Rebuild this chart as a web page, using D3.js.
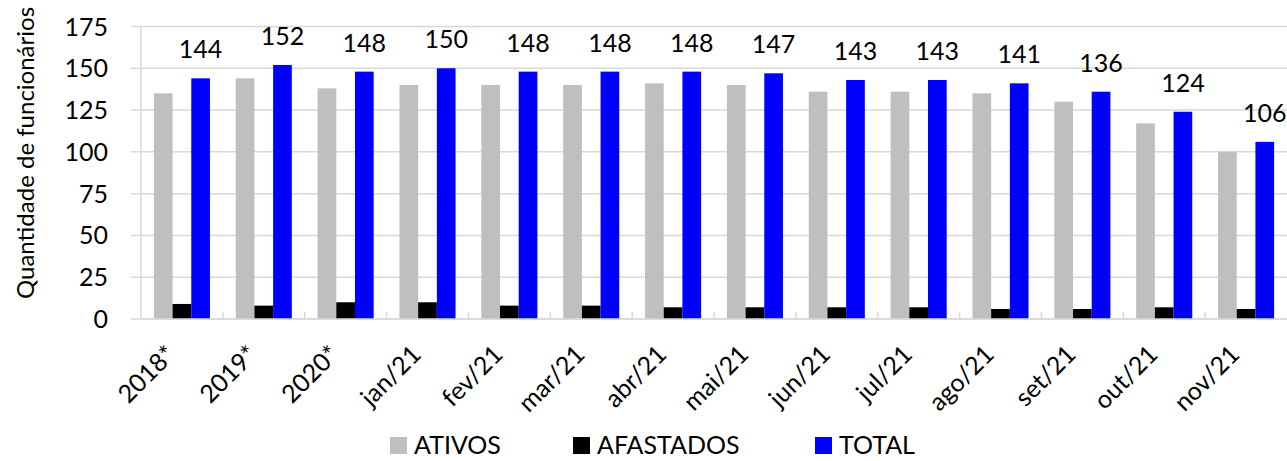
<!doctype html>
<html lang="pt">
  <head>
    <meta charset="utf-8">
    <title>funcionarios</title>
    <style>
      body { margin: 0; background: #fff; }
      text { font-family: Lato, "Open Sans", sans-serif; fill: #000; }
      .grid line { stroke: #d9d9d9; stroke-width: 1.5; }
    </style>
  </head>
  <body>
    <div class="chart"></div>
  <script src="https://d3js.org/d3.v7.min.js"></script>
  <script>
    const categories = ['2018*', '2019*', '2020*', 'jan/21', 'fev/21', 'mar/21', 'abr/21',
      'mai/21', 'jun/21', 'jul/21', 'ago/21', 'set/21', 'out/21', 'nov/21'];
    const ativos = [135, 144, 138, 140, 140, 140, 141, 140, 136, 136, 135, 130, 117, 100];
    const afastados = [9, 8, 10, 10, 8, 8, 7, 7, 7, 7, 6, 6, 7, 6];
    const total = [144, 152, 148, 150, 148, 148, 148, 147, 143, 143, 141, 136, 124, 106];
    const seriesNames = ['ATIVOS', 'AFASTADOS', 'TOTAL'];
    const seriesColors = ['#bfbfbf', '#000000', '#0000ff'];
    const yTicks = [0, 25, 50, 75, 100, 125, 150, 175];

    const width = 1287;
    const height = 461;
    const plot = {left: 141, right: 1287, top: 26.5, bottom: 319};

    const data = categories.map((c, i) => ({
      cat: c,
      values: [ativos[i], afastados[i], total[i]]
    }));

    const x0 = d3.scaleBand()
        .domain(categories)
        .range([plot.left, plot.right])
        .paddingInner(0);

    const x1 = d3.scaleBand()
        .domain(seriesNames)
        .range([0, x0.bandwidth()])
        .paddingInner(0)
        .paddingOuter(0.69);

    const y = d3.scaleLinear()
        .domain([0, 175])
        .range([plot.bottom, plot.top]);

    const color = d3.scaleOrdinal().domain(seriesNames).range(seriesColors);

    const svg = d3.select('.chart').append('svg')
        .attr('width', width)
        .attr('height', height);

    // gridlines + y labels
    const grid = svg.append('g').attr('class', 'grid');
    grid.selectAll('line')
      .data(yTicks)
      .enter().append('line')
        .attr('x1', plot.left - 10)
        .attr('x2', plot.right)
        .attr('y1', d => y(d))
        .attr('y2', d => y(d));

    svg.append('line')
        .attr('x1', plot.left).attr('x2', plot.left)
        .attr('y1', plot.top).attr('y2', plot.bottom)
        .attr('stroke', '#d9d9d9').attr('stroke-width', 1.5);

    svg.append('g')
      .selectAll('text')
      .data(yTicks)
      .enter().append('text')
        .attr('x', 108)
        .attr('y', d => y(d))
        .attr('dy', '0.36em')
        .attr('text-anchor', 'end')
        .style('font-size', '25px')
        .text(d => d);

    // x tick marks at band edges
    svg.append('g')
      .selectAll('line')
      .data(categories.slice(1))
      .enter().append('line')
        .attr('x1', d => x0(d))
        .attr('x2', d => x0(d))
        .attr('y1', plot.bottom)
        .attr('y2', plot.bottom - 7)
        .attr('stroke', '#d9d9d9').attr('stroke-width', 1.5);

    // bars
    const groups = svg.append('g')
      .selectAll('g')
      .data(data)
      .enter().append('g')
        .attr('transform', d => `translate(${x0(d.cat)},0)`);

    groups.selectAll('rect')
      .data(d => d.values.map((v, i) => ({key: seriesNames[i], value: v})))
      .enter().append('rect')
        .attr('x', d => x1(d.key))
        .attr('width', x1.bandwidth())
        .attr('y', d => y(d.value))
        .attr('height', d => y(0) - y(d.value))
        .attr('fill', d => color(d.key));

    // total labels
    groups.append('text')
        .attr('x', x1('TOTAL') + x1.bandwidth() / 2)
        .attr('y', d => y(d.values[2]) - 20)
        .attr('text-anchor', 'middle')
        .style('font-size', '25px')
        .text(d => d.values[2]);

    // x axis baseline
    svg.append('line')
        .attr('x1', plot.left).attr('x2', plot.right)
        .attr('y1', plot.bottom).attr('y2', plot.bottom)
        .attr('stroke', '#d9d9d9').attr('stroke-width', 1.5);

    // x labels
    svg.append('g')
      .selectAll('text')
      .data(categories)
      .enter().append('text')
        .attr('transform', d => `translate(${x0(d) + x0.bandwidth() / 2 - 5},${plot.bottom + 37}) rotate(-45)`)
        .attr('text-anchor', 'end')
        .style('font-size', '25px')
        .text(d => d);

    // y title
    svg.append('text')
        .attr('transform', `translate(34,153) rotate(-90)`)
        .attr('text-anchor', 'middle')
        .style('font-size', '24px')
        .text('Quantidade de funcionários');

    // legend
    const legendX = [390, 573, 815];
    const legend = svg.append('g')
      .selectAll('g')
      .data(seriesNames)
      .enter().append('g')
        .attr('transform', (d, i) => `translate(${legendX[i]},437)`);
    legend.append('rect')
        .attr('width', 17).attr('height', 17)
        .attr('fill', d => color(d));
    legend.append('text')
        .attr('x', 24)
        .attr('y', 17)
        .style('font-size', '25px')
        .text(d => d);
  </script>
  </body>
</html>
